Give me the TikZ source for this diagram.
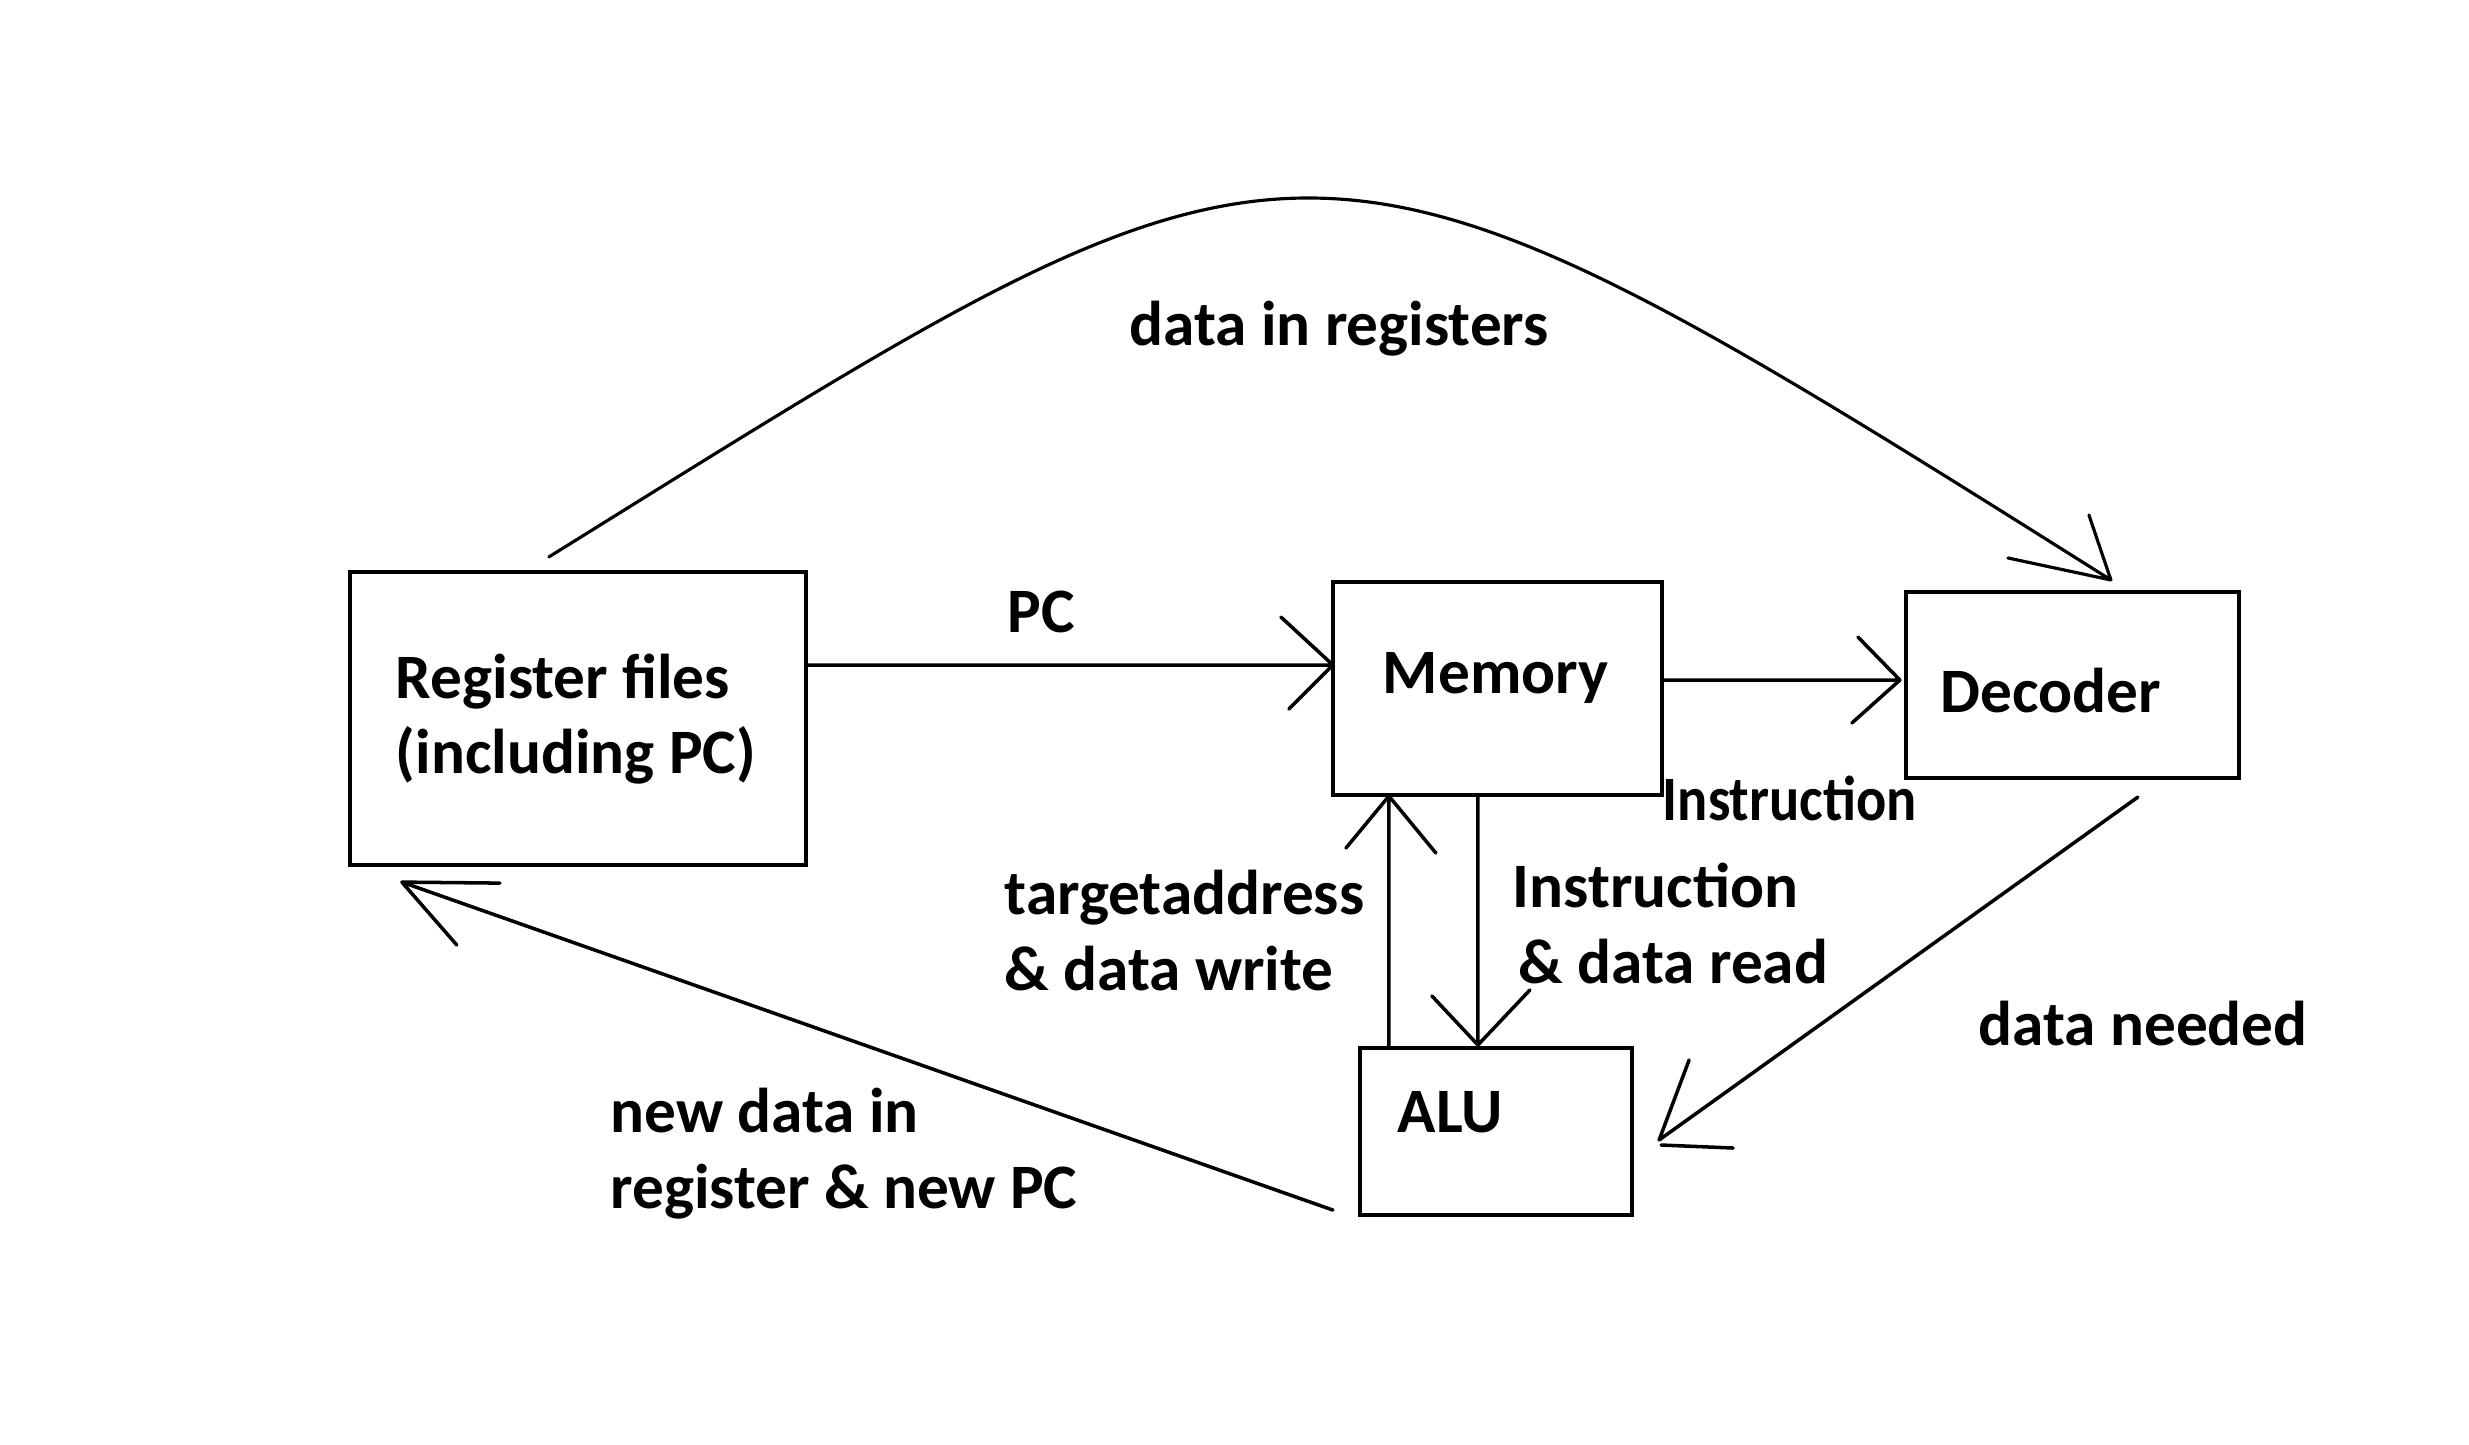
\documentclass[tikz,border=0pt]{standalone}
\usepackage{fontspec}
\setmainfont{Carlito}
\usepackage{graphicx}
\usetikzlibrary{calc}
\newcommand\dgfont{\fontsize{18}{21.6}\selectfont\bfseries}
\tikzset{
  box/.style={draw, line width=1.3pt, inner sep=0pt, outer sep=0pt, align=flush left, font=\dgfont},
  conn/.style={line width=1pt, line cap=round, line join=round},
  lbl/.style={inner sep=0pt, align=left, anchor=base west, font=\dgfont},
}
\begin{document}
\begin{tikzpicture}[x=0.01cm, y=-0.01cm]
\useasboundingbox[fill=white] (0,0) rectangle (2469,1444);

% boxes
\node[box, minimum width=4.56cm, minimum height=2.93cm, text width=3.64cm, text height=0.45cm, text depth=0.86cm] (reg) at (578,718.5) {\spaceskip=0pt\relax\mbox{Register files}\\\mbox{(including PC)}};
\node[box, minimum width=3.29cm, minimum height=2.13cm, text width=2.29cm, text height=0.45cm, text depth=0.36cm] (mem) at (1497.5,688.5) {Memory};
\node[box, minimum width=3.33cm, minimum height=1.86cm, text width=2.63cm, text height=0.6cm, text depth=0.06cm] (dec) at (2072.5,685) {Decoder};
\node[box, minimum width=2.72cm, minimum height=1.67cm, text width=1.96cm, text height=0.45cm, text depth=0.44cm] (alu) at (1496,1131.5) {ALU};

% labels (anchor = baseline of the last line)
\node[lbl] (pcl) at (1007,632) {PC};
\node[lbl] (dirl) at (1129,345) {data in registers};
\node[lbl] (insl) at (1662,820) {\scalebox{0.89}[1]{Instruction}};
\node[lbl] (twl) at (1004,990) {targetaddress\\\& data write};
\node[lbl] (rdl) at (1512,983) {Instruction\\\hspace*{0.06cm}\& data read};
\node[lbl] (dnl) at (1978,1045) {data needed};
\node[lbl] (nwl) at (610,1208) {new data in\\register \& new PC};

% connectors
\draw[conn, line width=0.9pt] ($(reg.north west)+(199,-15)$) .. controls (1312,83) and (1295,66) .. ($(dec.north west)+(205,-12)$) coordinate (t0) -- ++(-22,-65) (t0) -- ++(-103,-22);
\draw[conn] ($(reg.east)+(0,-53.5)$) -- ($(mem.west)+(0,-23.5)$) coordinate (t1) -- ++(-52,-48) (t1) -- ++(-44,44);
\draw[conn] ($(mem.east)+(0,-8.5)$) -- ($(dec.west)+(-6,-5)$) coordinate (t2) -- ++(-42,-43) (t2) -- ++(-48,43);
\draw[conn] ($(alu.north west)+(29,0)$) -- ($(mem.south west)+(56,1)$) coordinate (t3) -- ++(-43,52) (t3) -- ++(47,57);
\draw[conn] ($(mem.south west)+(145,0)$) -- ($(alu.north west)+(118,-3)$) coordinate (t4) -- ++(-46,-49) (t4) -- ++(52,-55);
\draw[conn] ($(dec.south west)+(232,19)$) -- ($(alu.east)+(27,8.5)$) coordinate (t5) -- ++(30,-80) (t5) ++(2,5) -- ++(72,3);
\draw[conn] ($(alu.south west)+(-27,-5)$) -- ($(reg.south west)+(52,17)$) coordinate (t6) -- ++(98,1) (t6) -- ++(55,63);
\end{tikzpicture}
\end{document}
